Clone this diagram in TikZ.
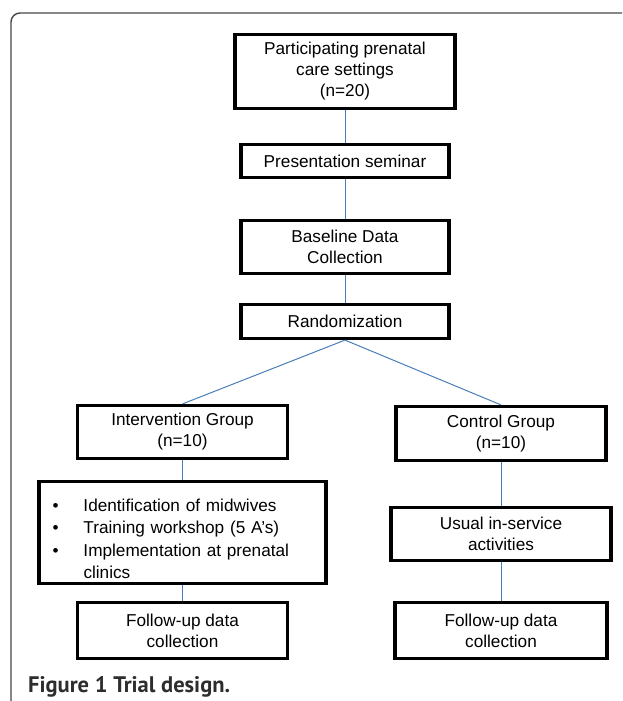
\documentclass[tikz,border=0pt]{standalone}
\usepackage{fontspec}
\setmainfont{Liberation Sans}
\newfontfamily\capfont{PT Sans}

\definecolor{linkblue}{RGB}{74,126,187}
\definecolor{framegray}{RGB}{70,70,70}
\definecolor{capgray}{RGB}{45,45,45}

\tikzset{
  box/.style={draw, line width=3.2pt, align=center, inner sep=0pt,
    font=\fontsize{17.2}{21}\selectfont},
  link/.style={draw=linkblue, line width=1pt},
}

\begin{document}
\begin{tikzpicture}[x=1pt,y=-1pt]
\useasboundingbox (0,0) rectangle (622,701);
\draw[framegray, line width=1.4pt, rounded corners=9pt] (11,701) -- (11,13) -- (622,13);

\node[box, minimum width=220pt, minimum height=74pt] (settings) at (345,71.5) {Participating prenatal\\care settings\\(n=20)};
\node[box, minimum width=208pt, minimum height=33pt] (seminar) at (345,161) {Presentation seminar};
\node[box, minimum width=208pt, minimum height=53pt] (baseline) at (345,247) {Baseline Data\\Collection};
\node[box, minimum width=208pt, minimum height=34pt] (random) at (345,321.5) {Randomization};

\node[box, minimum width=210pt, minimum height=53pt] (interv) at (182.5,432) {Intervention Group\\(n=10)};
\node[box, minimum width=210pt, minimum height=54pt] (control) at (501,433.5) {Control Group\\(n=10)};

\node[box, align=left, text width=260pt, minimum width=287pt, minimum height=102pt,
  font=\fontsize{17.2}{22.4}\selectfont] (steps) at (182.5,532.5)
  {\rule{0pt}{25pt}\makebox[31pt][l]{\textbullet}Identification of midwives\\
   \makebox[31pt][l]{\textbullet}Training workshop (5 A’s)\\
   \makebox[31pt][l]{\textbullet}Implementation at prenatal\\
   \hspace*{31pt}clinics};
\node[box, minimum width=220pt, minimum height=53pt] (usual) at (501,534) {Usual in-service\\activities};

\node[box, minimum width=210pt, minimum height=56pt] (followi) at (182.5,630.5) {Follow-up data\\collection};
\node[box, minimum width=212pt, minimum height=56pt] (followc) at (501,630.5) {Follow-up data\\collection};

\draw[link] (settings.south) -- (seminar.north);
\draw[link] (seminar.south) -- (baseline.north);
\draw[link] (baseline.south) -- (random.north);
\draw[link] (random.south) -- (interv.north);
\draw[link] (random.south) -- (control.north);
\draw[link] (interv.south) -- (steps.north);
\draw[link] (steps.south) -- (followi.north);
\draw[link] (control.south) -- (usual.north);
\draw[link] (usual.south) -- (followc.north);

\node[anchor=base west, inner sep=0pt, text=capgray,
  font=\capfont\bfseries\fontsize{22.5}{24}\selectfont] (caption) at (28,692) {Figure 1 Trial design.};
\end{tikzpicture}
\end{document}
